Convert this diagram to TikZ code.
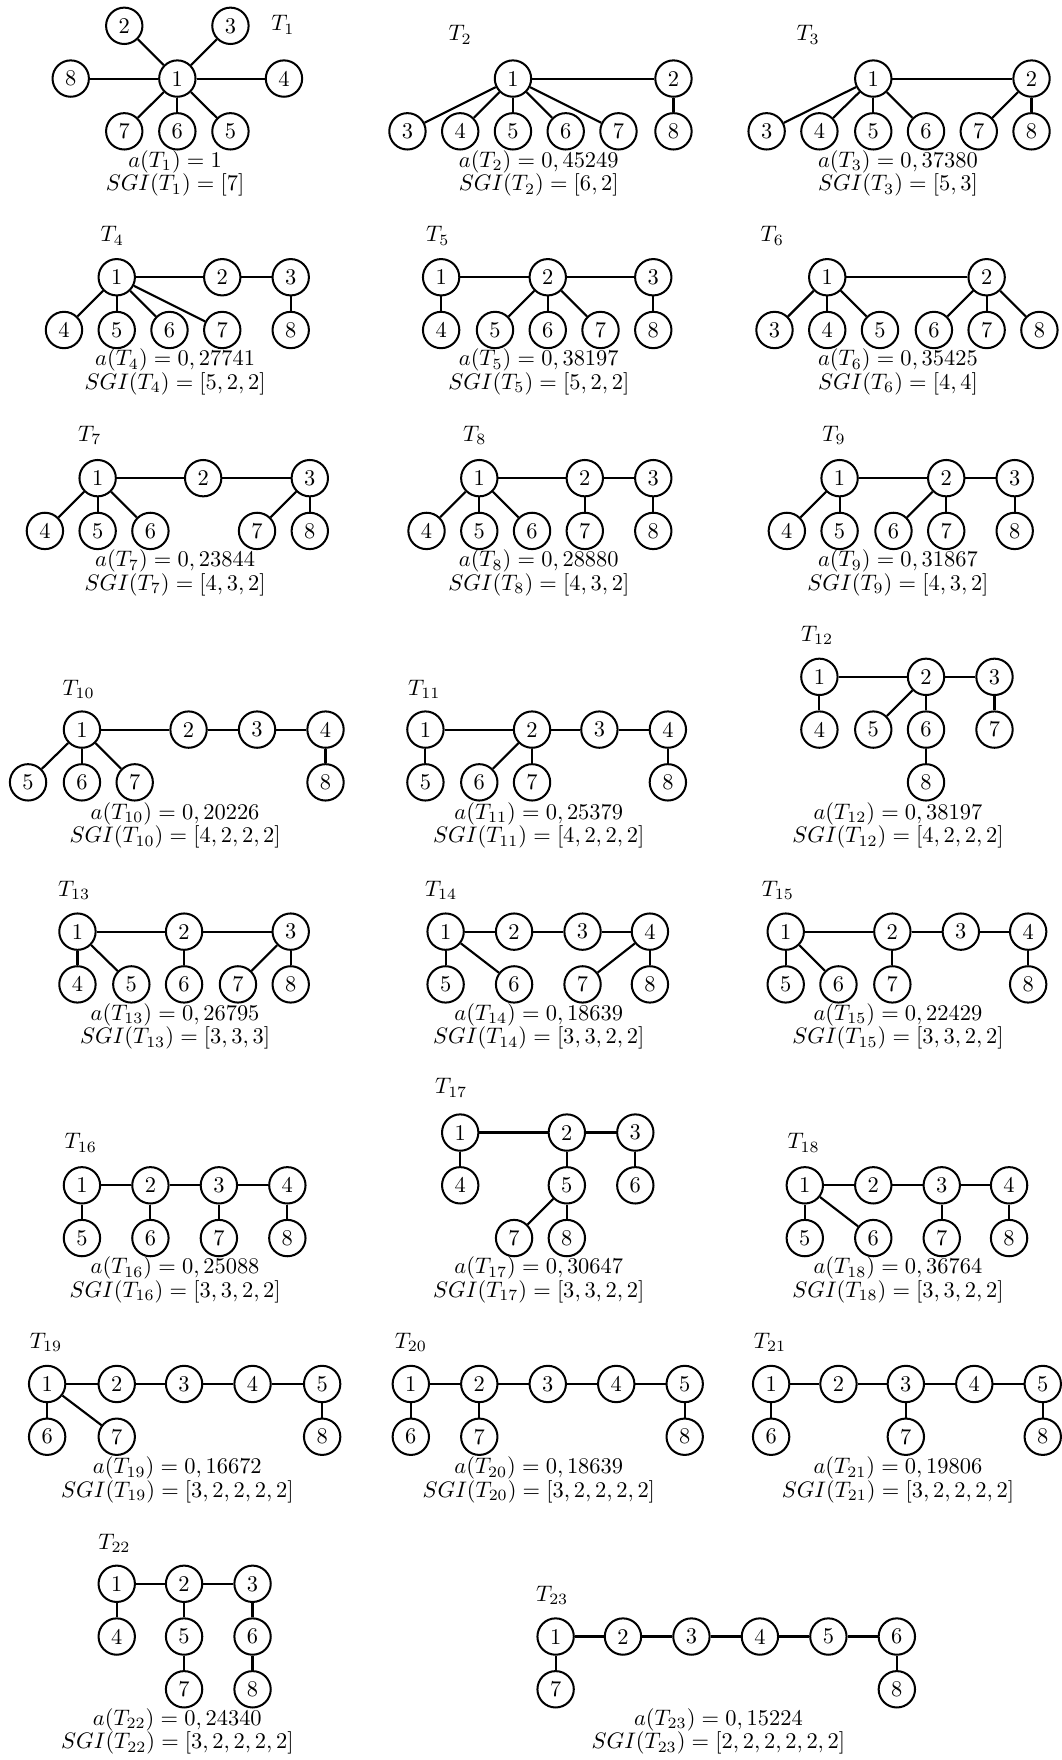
\documentclass[tikz,border=0pt]{standalone}
\usepackage{tikz}
\tikzset{
  v/.style={circle, draw, line width=0.9pt, minimum size=16.2pt, inner sep=0pt},
  e/.style={line width=0.95pt},
  lbl/.style={inner sep=0pt},
  txt/.style={inner sep=0pt}
}
\newcommand{\tree}[2]{\foreach \a/\b in {#2} \draw[e] (#1n\a) -- (#1n\b);}
\begin{document}
\begin{tikzpicture}[x=0.5pt,y=-0.5pt]
\useasboundingbox (0,0) rectangle (946,1568);
% ---------- T1
\node[lbl] (t1l) at (252,22) {$T_1$};
\node[v] (t1n1) at (158,70) {1};
\node[v] (t1n2) at (110.7,23) {2};
\node[v] (t1n3) at (205.3,23) {3};
\node[v] (t1n8) at (63,70) {8};
\node[v] (t1n4) at (253,70) {4};
\node[v] (t1n7) at (110.7,117) {7};
\node[v] (t1n6) at (158,117) {6};
\node[v] (t1n5) at (205.3,117) {5};
\tree{t1}{1/2,1/3,1/4,1/5,1/6,1/7,1/8}
\node[txt] (t1a) at (156,144) {$a(T_1)=1$};
\node[txt] (t1s) at (156,165) {$SGI(T_1)=[7]$};
% ---------- T2
\node[lbl] (t2l) at (410,31) {$T_2$};
\node[v] (t2n1) at (457,70) {1};
\node[v] (t2n2) at (600,70) {2};
\node[v] (t2n3) at (363,117) {3};
\node[v] (t2n4) at (410,117) {4};
\node[v] (t2n5) at (457,117) {5};
\node[v] (t2n6) at (504,117) {6};
\node[v] (t2n7) at (551,117) {7};
\node[v] (t2n8) at (600,117) {8};
\tree{t2}{1/2,1/3,1/4,1/5,1/6,1/7,2/8}
\node[txt] (t2a) at (480,144) {$a(T_2)=0,45249$};
\node[txt] (t2s) at (480,165) {$SGI(T_2)=[6,2]$};
% ---------- T3
\node[lbl] (t3l) at (720,31) {$T_3$};
\node[v] (t3n1) at (778,70) {1};
\node[v] (t3n2) at (919,70) {2};
\node[v] (t3n3) at (683,117) {3};
\node[v] (t3n4) at (730,117) {4};
\node[v] (t3n5) at (778,117) {5};
\node[v] (t3n6) at (825,117) {6};
\node[v] (t3n7) at (872,117) {7};
\node[v] (t3n8) at (919,117) {8};
\tree{t3}{1/2,1/3,1/4,1/5,1/6,2/7,2/8}
\node[txt] (t3a) at (800,144) {$a(T_3)=0,37380$};
\node[txt] (t3s) at (800,165) {$SGI(T_3)=[5,3]$};
% ---------- T4
\node[lbl] (t4l) at (100,210) {$T_4$};
\node[v] (t4n1) at (104,247) {1};
\node[v] (t4n2) at (198,247) {2};
\node[v] (t4n3) at (259,247) {3};
\node[v] (t4n4) at (57,294) {4};
\node[v] (t4n5) at (104,294) {5};
\node[v] (t4n6) at (151,294) {6};
\node[v] (t4n7) at (198,294) {7};
\node[v] (t4n8) at (259,294) {8};
\tree{t4}{1/2,2/3,1/4,1/5,1/6,1/7,3/8}
\node[txt] (t4a) at (156,321) {$a(T_4)=0,27741$};
\node[txt] (t4s) at (156,342) {$SGI(T_4)=[5,2,2]$};
% ---------- T5
\node[lbl] (t5l) at (390,210) {$T_5$};
\node[v] (t5n1) at (393,247) {1};
\node[v] (t5n2) at (488,247) {2};
\node[v] (t5n3) at (582,247) {3};
\node[v] (t5n4) at (393,294) {4};
\node[v] (t5n5) at (441,294) {5};
\node[v] (t5n6) at (488,294) {6};
\node[v] (t5n7) at (535,294) {7};
\node[v] (t5n8) at (582,294) {8};
\tree{t5}{1/2,2/3,1/4,2/5,2/6,2/7,3/8}
\node[txt] (t5a) at (480,321) {$a(T_5)=0,38197$};
\node[txt] (t5s) at (480,342) {$SGI(T_5)=[5,2,2]$};
% ---------- T6
\node[lbl] (t6l) at (688,210) {$T_6$};
\node[v] (t6n1) at (737,247) {1};
\node[v] (t6n2) at (879,247) {2};
\node[v] (t6n3) at (690,294) {3};
\node[v] (t6n4) at (737,294) {4};
\node[v] (t6n5) at (784,294) {5};
\node[v] (t6n6) at (832,294) {6};
\node[v] (t6n7) at (879,294) {7};
\node[v] (t6n8) at (926,294) {8};
\tree{t6}{1/2,1/3,1/4,1/5,2/6,2/7,2/8}
\node[txt] (t6a) at (800,321) {$a(T_6)=0,35425$};
\node[txt] (t6s) at (800,342) {$SGI(T_6)=[4,4]$};
% ---------- T7
\node[lbl] (t7l) at (80,388) {$T_7$};
\node[v] (t7n1) at (87,426) {1};
\node[v] (t7n2) at (181,426) {2};
\node[v] (t7n3) at (276,426) {3};
\node[v] (t7n4) at (40,473) {4};
\node[v] (t7n5) at (87,473) {5};
\node[v] (t7n6) at (134,473) {6};
\node[v] (t7n7) at (229,473) {7};
\node[v] (t7n8) at (276,473) {8};
\tree{t7}{1/2,2/3,1/4,1/5,1/6,3/7,3/8}
\node[txt] (t7a) at (156,500) {$a(T_7)=0,23844$};
\node[txt] (t7s) at (156,521) {$SGI(T_7)=[4,3,2]$};
% ---------- T8
\node[lbl] (t8l) at (423,388) {$T_8$};
\node[v] (t8n1) at (427,426) {1};
\node[v] (t8n2) at (521,426) {2};
\node[v] (t8n3) at (582,426) {3};
\node[v] (t8n4) at (380,473) {4};
\node[v] (t8n5) at (427,473) {5};
\node[v] (t8n6) at (474,473) {6};
\node[v] (t8n7) at (521,473) {7};
\node[v] (t8n8) at (582,473) {8};
\tree{t8}{1/2,2/3,1/4,1/5,1/6,2/7,3/8}
\node[txt] (t8a) at (480,500) {$a(T_8)=0,28880$};
\node[txt] (t8s) at (480,521) {$SGI(T_8)=[4,3,2]$};
% ---------- T9
\node[lbl] (t9l) at (743,388) {$T_9$};
\node[v] (t9n1) at (748,426) {1};
\node[v] (t9n2) at (843,426) {2};
\node[v] (t9n3) at (904,426) {3};
\node[v] (t9n4) at (701,473) {4};
\node[v] (t9n5) at (748,473) {5};
\node[v] (t9n6) at (796,473) {6};
\node[v] (t9n7) at (843,473) {7};
\node[v] (t9n8) at (904,473) {8};
\tree{t9}{1/2,2/3,1/4,1/5,2/6,2/7,3/8}
\node[txt] (t9a) at (800,500) {$a(T_9)=0,31867$};
\node[txt] (t9s) at (800,521) {$SGI(T_9)=[4,3,2]$};
% ---------- T10
\node[lbl] (t10l) at (70,614) {$T_{10}$};
\node[v] (t10n1) at (73,650) {1};
\node[v] (t10n2) at (168,650) {2};
\node[v] (t10n3) at (229,650) {3};
\node[v] (t10n4) at (290,650) {4};
\node[v] (t10n5) at (25,697) {5};
\node[v] (t10n6) at (73,697) {6};
\node[v] (t10n7) at (120,697) {7};
\node[v] (t10n8) at (290,697) {8};
\tree{t10}{1/2,2/3,3/4,1/5,1/6,1/7,4/8}
\node[txt] (t10a) at (156,725) {$a(T_{10})=0,20226$};
\node[txt] (t10s) at (156,746) {$SGI(T_{10})=[4,2,2,2]$};
% ---------- T11
\node[lbl] (t11l) at (378,614) {$T_{11}$};
\node[v] (t11n1) at (379,650) {1};
\node[v] (t11n2) at (474,650) {2};
\node[v] (t11n3) at (534,650) {3};
\node[v] (t11n4) at (595,650) {4};
\node[v] (t11n5) at (379,697) {5};
\node[v] (t11n6) at (427,697) {6};
\node[v] (t11n7) at (474,697) {7};
\node[v] (t11n8) at (595,697) {8};
\tree{t11}{1/2,2/3,3/4,1/5,2/6,2/7,4/8}
\node[txt] (t11a) at (480,725) {$a(T_{11})=0,25379$};
\node[txt] (t11s) at (480,746) {$SGI(T_{11})=[4,2,2,2]$};
% ---------- T12
\node[lbl] (t12l) at (728,566) {$T_{12}$};
\node[v] (t12n1) at (730,603) {1};
\node[v] (t12n2) at (825,603) {2};
\node[v] (t12n3) at (886,603) {3};
\node[v] (t12n4) at (730,650) {4};
\node[v] (t12n5) at (778,650) {5};
\node[v] (t12n6) at (825,650) {6};
\node[v] (t12n7) at (886,650) {7};
\node[v] (t12n8) at (825,697) {8};
\tree{t12}{1/2,2/3,1/4,2/5,2/6,3/7,6/8}
\node[txt] (t12a) at (800,725) {$a(T_{12})=0,38197$};
\node[txt] (t12s) at (800,746) {$SGI(T_{12})=[4,2,2,2]$};
% ---------- T13
\node[lbl] (t13l) at (66,793) {$T_{13}$};
\node[v] (t13n1) at (69,830) {1};
\node[v] (t13n2) at (164,830) {2};
\node[v] (t13n3) at (259,830) {3};
\node[v] (t13n4) at (69,877) {4};
\node[v] (t13n5) at (117,877) {5};
\node[v] (t13n6) at (164,877) {6};
\node[v] (t13n7) at (212,877) {7};
\node[v] (t13n8) at (259,877) {8};
\tree{t13}{1/2,2/3,1/4,1/5,2/6,3/7,3/8}
\node[txt] (t13a) at (156,904) {$a(T_{13})=0,26795$};
\node[txt] (t13s) at (156,925) {$SGI(T_{13})=[3,3,3]$};
% ---------- T14
\node[lbl] (t14l) at (393,793) {$T_{14}$};
\node[v] (t14n1) at (397,830) {1};
\node[v] (t14n2) at (458,830) {2};
\node[v] (t14n3) at (519,830) {3};
\node[v] (t14n4) at (579,830) {4};
\node[v] (t14n5) at (397,877) {5};
\node[v] (t14n6) at (458,877) {6};
\node[v] (t14n7) at (519,877) {7};
\node[v] (t14n8) at (579,877) {8};
\tree{t14}{1/2,2/3,3/4,1/5,1/6,4/7,4/8}
\node[txt] (t14a) at (480,904) {$a(T_{14})=0,18639$};
\node[txt] (t14s) at (480,925) {$SGI(T_{14})=[3,3,2,2]$};
% ---------- T15
\node[lbl] (t15l) at (693,793) {$T_{15}$};
\node[v] (t15n1) at (700,830) {1};
\node[v] (t15n2) at (795,830) {2};
\node[v] (t15n3) at (856,830) {3};
\node[v] (t15n4) at (916,830) {4};
\node[v] (t15n5) at (700,877) {5};
\node[v] (t15n6) at (747,877) {6};
\node[v] (t15n7) at (795,877) {7};
\node[v] (t15n8) at (916,877) {8};
\tree{t15}{1/2,2/3,3/4,1/5,1/6,2/7,4/8}
\node[txt] (t15a) at (800,904) {$a(T_{15})=0,22429$};
\node[txt] (t15s) at (800,925) {$SGI(T_{15})=[3,3,2,2]$};
% ---------- T16
\node[lbl] (t16l) at (72,1018) {$T_{16}$};
\node[v] (t16n1) at (73,1056) {1};
\node[v] (t16n2) at (134,1056) {2};
\node[v] (t16n3) at (195,1056) {3};
\node[v] (t16n4) at (256,1056) {4};
\node[v] (t16n5) at (73,1103) {5};
\node[v] (t16n6) at (134,1103) {6};
\node[v] (t16n7) at (195,1103) {7};
\node[v] (t16n8) at (256,1103) {8};
\tree{t16}{1/2,2/3,3/4,1/5,2/6,3/7,4/8}
\node[txt] (t16a) at (156,1130) {$a(T_{16})=0,25088$};
\node[txt] (t16s) at (156,1151) {$SGI(T_{16})=[3,3,2,2]$};
% ---------- T17
\node[lbl] (t17l) at (402,969) {$T_{17}$};
\node[v] (t17n1) at (410,1009) {1};
\node[v] (t17n2) at (505,1009) {2};
\node[v] (t17n3) at (566,1009) {3};
\node[v] (t17n4) at (410,1056) {4};
\node[v] (t17n5) at (505,1056) {5};
\node[v] (t17n6) at (566,1056) {6};
\node[v] (t17n7) at (458,1103) {7};
\node[v] (t17n8) at (505,1103) {8};
\tree{t17}{1/2,2/3,1/4,2/5,3/6,5/7,5/8}
\node[txt] (t17a) at (480,1130) {$a(T_{17})=0,30647$};
\node[txt] (t17s) at (480,1151) {$SGI(T_{17})=[3,3,2,2]$};
% ---------- T18
\node[lbl] (t18l) at (716,1018) {$T_{18}$};
\node[v] (t18n1) at (717,1056) {1};
\node[v] (t18n2) at (778,1056) {2};
\node[v] (t18n3) at (839,1056) {3};
\node[v] (t18n4) at (899,1056) {4};
\node[v] (t18n5) at (717,1103) {5};
\node[v] (t18n6) at (778,1103) {6};
\node[v] (t18n7) at (839,1103) {7};
\node[v] (t18n8) at (899,1103) {8};
\tree{t18}{1/2,2/3,3/4,1/5,1/6,3/7,4/8}
\node[txt] (t18a) at (800,1130) {$a(T_{18})=0,36764$};
\node[txt] (t18s) at (800,1151) {$SGI(T_{18})=[3,3,2,2]$};
% ---------- T19
\node[lbl] (t19l) at (41,1196) {$T_{19}$};
\node[v] (t19n1) at (42,1233) {1};
\node[v] (t19n2) at (104,1233) {2};
\node[v] (t19n3) at (164,1233) {3};
\node[v] (t19n4) at (225,1233) {4};
\node[v] (t19n5) at (287,1233) {5};
\node[v] (t19n6) at (42,1280) {6};
\node[v] (t19n7) at (104,1280) {7};
\node[v] (t19n8) at (287,1280) {8};
\tree{t19}{1/2,2/3,3/4,4/5,1/6,1/7,5/8}
\node[txt] (t19a) at (158,1308) {$a(T_{19})=0,16672$};
\node[txt] (t19s) at (158,1329) {$SGI(T_{19})=[3,2,2,2,2]$};
% ---------- T20
\node[lbl] (t20l) at (366,1196) {$T_{20}$};
\node[v] (t20n1) at (366,1233) {1};
\node[v] (t20n2) at (427,1233) {2};
\node[v] (t20n3) at (488,1233) {3};
\node[v] (t20n4) at (549,1233) {4};
\node[v] (t20n5) at (610,1233) {5};
\node[v] (t20n6) at (366,1280) {6};
\node[v] (t20n7) at (427,1280) {7};
\node[v] (t20n8) at (610,1280) {8};
\tree{t20}{1/2,2/3,3/4,4/5,1/6,2/7,5/8}
\node[txt] (t20a) at (480,1308) {$a(T_{20})=0,18639$};
\node[txt] (t20s) at (480,1329) {$SGI(T_{20})=[3,2,2,2,2]$};
% ---------- T21
\node[lbl] (t21l) at (686,1196) {$T_{21}$};
\node[v] (t21n1) at (687,1233) {1};
\node[v] (t21n2) at (747,1233) {2};
\node[v] (t21n3) at (807,1233) {3};
\node[v] (t21n4) at (868,1233) {4};
\node[v] (t21n5) at (929,1233) {5};
\node[v] (t21n6) at (687,1280) {6};
\node[v] (t21n7) at (807,1280) {7};
\node[v] (t21n8) at (929,1280) {8};
\tree{t21}{1/2,2/3,3/4,4/5,1/6,3/7,5/8}
\node[txt] (t21a) at (800,1308) {$a(T_{21})=0,19806$};
\node[txt] (t21s) at (800,1329) {$SGI(T_{21})=[3,2,2,2,2]$};
% ---------- T22
\node[lbl] (t22l) at (102,1375) {$T_{22}$};
\node[v] (t22n1) at (104,1411) {1};
\node[v] (t22n2) at (164,1411) {2};
\node[v] (t22n3) at (225,1411) {3};
\node[v] (t22n4) at (104,1458) {4};
\node[v] (t22n5) at (164,1458) {5};
\node[v] (t22n6) at (225,1458) {6};
\node[v] (t22n7) at (164,1505) {7};
\node[v] (t22n8) at (225,1505) {8};
\tree{t22}{1/2,2/3,1/4,2/5,3/6,5/7,6/8}
\node[txt] (t22a) at (158,1532) {$a(T_{22})=0,24340$};
\node[txt] (t22s) at (158,1553) {$SGI(T_{22})=[3,2,2,2,2]$};
% ---------- T23
\node[lbl] (t23l) at (492,1421) {$T_{23}$};
\node[v] (t23n1) at (495,1458) {1};
\node[v] (t23n2) at (555,1458) {2};
\node[v] (t23n3) at (616,1458) {3};
\node[v] (t23n4) at (677,1458) {4};
\node[v] (t23n5) at (738,1458) {5};
\node[v] (t23n6) at (799,1458) {6};
\node[v] (t23n7) at (495,1505) {7};
\node[v] (t23n8) at (799,1505) {8};
\tree{t23}{1/2,2/3,3/4,4/5,5/6,1/7,6/8}
\node[txt] (t23a) at (640,1532) {$a(T_{23})=0,15224$};
\node[txt] (t23s) at (640,1553) {$SGI(T_{23})=[2,2,2,2,2,2]$};
\end{tikzpicture}
\end{document}
